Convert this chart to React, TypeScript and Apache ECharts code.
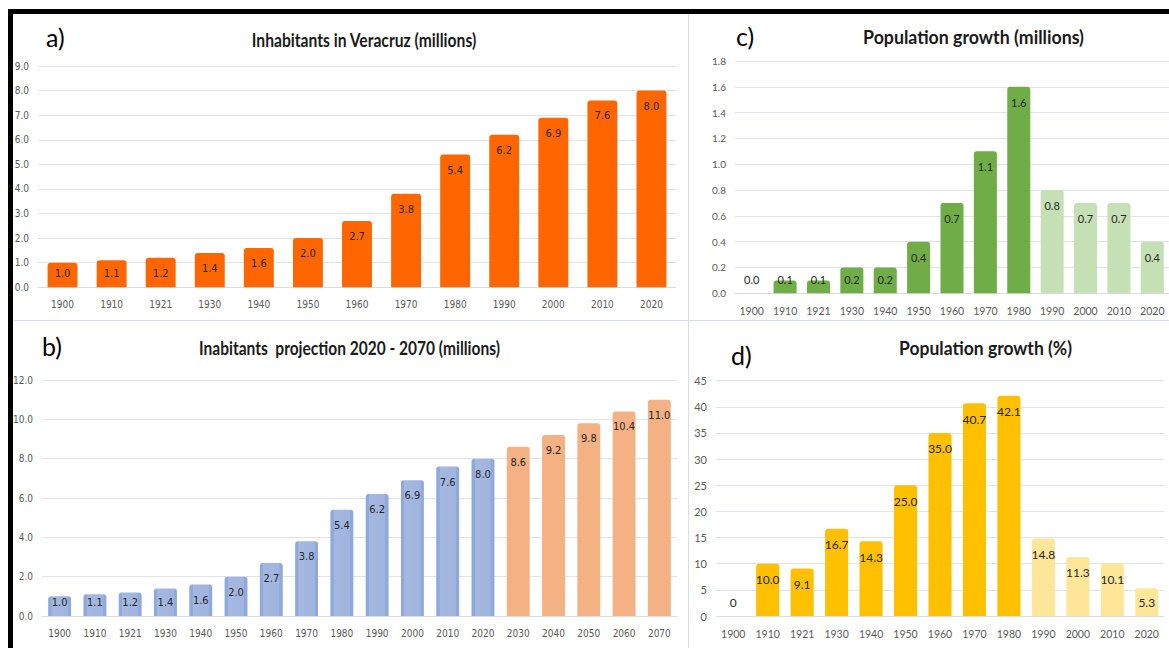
import React, { useEffect, useRef } from "react";
import * as echarts from "echarts";

// ---------- data ----------
const years = ["1900", "1910", "1921", "1930", "1940", "1950", "1960", "1970", "1980", "1990", "2000", "2010", "2020"];
const projectionYears = [...years, "2030", "2040", "2050", "2060", "2070"];
const inhabitants = [1.0, 1.1, 1.2, 1.4, 1.6, 2.0, 2.7, 3.8, 5.4, 6.2, 6.9, 7.6, 8.0];
const projection = [1.0, 1.1, 1.2, 1.4, 1.6, 2.0, 2.7, 3.8, 5.4, 6.2, 6.9, 7.6, 8.0, 8.6, 9.2, 9.8, 10.4, 11.0];
const growthMillions = [0.0, 0.1, 0.1, 0.2, 0.2, 0.4, 0.7, 1.1, 1.6, 0.8, 0.7, 0.7, 0.4];
const growthPercent = [0, 10.0, 9.1, 16.7, 14.3, 25.0, 35.0, 40.7, 42.1, 14.8, 11.3, 10.1, 5.3];
const projectionStart = 13; // first projected category in b)
const growthLightStart = 9; // 1990 onward shown lighter in c) and d)

const titles = {
  a: "Inhabitants in Veracruz (millions)",
  b: "Inabitants  projection 2020 - 2070 (millions)",
  c: "Population growth (millions)",
  d: "Population growth (%)",
};

const NARROW = '"Liberation Sans Narrow", "DejaVu Sans Condensed", Lato, sans-serif';
const CAL = 'Lato, "Open Sans", sans-serif';
const GRIDLINE = "#e0e3ea";

function fitScale(text: string, font: string, target: number) {
  try {
    const ctx = document.createElement("canvas").getContext("2d")!;
    ctx.font = font;
    const w = ctx.measureText(text).width;
    return w > 0 ? target / w : 1;
  } catch (e) {
    return 1;
  }
}

function titleText(text: string, cx: number, cy: number, size: number, width: number) {
  const family = "Lato";
  const scaleX = fitScale(text, `bold ${size}px ${family}`, width);
  return {
    type: "text",
    x: cx,
    y: cy,
    scaleX,
    style: {
      text,
      fontFamily: family,
      fontWeight: "bold",
      fontSize: size,
      fill: "#1a1a1a",
      align: "center",
      verticalAlign: "middle",
    },
  };
}

function letter(text: string, x: number, cy: number) {
  return {
    type: "text",
    x,
    y: cy,
    style: {
      text,
      fontFamily: CAL,
      fontSize: 25,
      fill: "#000",
      align: "left",
      verticalAlign: "middle",
    },
  };
}

function barData(
  values: number[],
  colorOf: (i: number) => any,
  max: number,
  gridH: number,
  fmt: (v: number) => string
) {
  return values.map((v, i) => {
    const px = (v / max) * gridH;
    const small = px < 30;
    return {
      value: v,
      itemStyle: { color: colorOf(i), borderRadius: [3, 3, 0, 0] },
      label: {
        position: small ? "insideBottom" : "insideTop",
        distance: small ? 8 : 10,
        formatter: () => fmt(v),
      },
    };
  });
}

const blueBar = {
  type: "linear",
  x: 0,
  y: 0,
  x2: 1,
  y2: 0,
  colorStops: [
    { offset: 0, color: "#8eaadc" },
    { offset: 0.14, color: "#8eaadc" },
    { offset: 0.15, color: "#a5b8e0" },
    { offset: 0.85, color: "#a1b4de" },
    { offset: 0.86, color: "#8eaadc" },
    { offset: 1, color: "#8eaadc" },
  ],
};

export default function App() {
  const ref = useRef<HTMLDivElement>(null);

  useEffect(() => {
    if (!ref.current) return;
    const chart = echarts.init(ref.current, null, { renderer: "svg" });

    const grids = [
      { left: 38, top: 66, width: 638, height: 221.3 },
      { left: 42, top: 380, width: 635, height: 236 },
      { left: 735, top: 61, width: 439, height: 232.3 },
      { left: 716, top: 380.7, width: 448, height: 235.3 },
    ];
    const yConf = [
      { max: 9, interval: 1, fmt: (v: number) => v.toFixed(1), font: NARROW, size: 10 },
      { max: 12, interval: 2, fmt: (v: number) => v.toFixed(1), font: NARROW, size: 10 },
      { max: 1.8, interval: 0.2, fmt: (v: number) => v.toFixed(1), font: CAL, size: 10 },
      { max: 45, interval: 5, fmt: (v: number) => String(Math.round(v)), font: CAL, size: 11 },
    ];
    const cats = [years, projectionYears, years, years];

    const xAxis = cats.map((c, i) => ({
      type: "category",
      gridIndex: i,
      data: c,
      axisTick: { show: false },
      axisLine: { show: true, lineStyle: { color: "#d9dce3", width: 1 } },
      axisLabel: {
        color: "#595959",
        fontFamily: yConf[i].font,
        fontSize: i < 2 ? 10 : 10.5,
        margin: 12,
        interval: 0,
      },
    }));

    const yAxis = yConf.map((y, i) => ({
      type: "value",
      gridIndex: i,
      min: 0,
      max: y.max,
      interval: y.interval,
      axisLine: { show: false },
      axisTick: { show: false },
      splitLine: { lineStyle: { color: GRIDLINE, width: 1 } },
      axisLabel: {
        color: "#595959",
        fontFamily: y.font,
        fontSize: y.size,
        margin: 9,
        formatter: y.fmt,
      },
    }));

    const labelBase = (font: string, size: number) => ({
      show: true,
      color: "#262626",
      fontFamily: font,
      fontSize: size,
    });

    const series = [
      {
        type: "bar",
        xAxisIndex: 0,
        yAxisIndex: 0,
        barWidth: "61%",
        label: labelBase(NARROW, 11),
        data: barData(inhabitants, () => "#ff6600", 9, 221.3, (v) => v.toFixed(1)),
      },
      {
        type: "bar",
        xAxisIndex: 1,
        yAxisIndex: 1,
        barWidth: "65%",
        label: labelBase(NARROW, 11),
        data: barData(
          projection,
          (i) => (i < projectionStart ? blueBar : "#f4b183"),
          12,
          236,
          (v) => v.toFixed(1)
        ),
      },
      {
        type: "bar",
        xAxisIndex: 2,
        yAxisIndex: 2,
        barWidth: "69%",
        label: labelBase(CAL, 11),
        data: barData(
          growthMillions,
          (i) => (i < growthLightStart ? "#70ad47" : "#c5e0b4"),
          1.8,
          232.3,
          (v) => v.toFixed(1)
        ),
      },
      {
        type: "bar",
        xAxisIndex: 3,
        yAxisIndex: 3,
        barWidth: "67%",
        label: labelBase(CAL, 12),
        data: barData(
          growthPercent,
          (i) => (i < growthLightStart ? "#ffc000" : "#ffe699"),
          45,
          235.3,
          (v) => (v === 0 ? "0" : v.toFixed(1))
        ),
      },
    ];

    const graphic = [
      // frame
      { type: "rect", shape: { x: 8, y: 9, width: 1161, height: 5 }, style: { fill: "#000" }, z: 100 },
      { type: "rect", shape: { x: 8, y: 9, width: 5, height: 639 }, style: { fill: "#000" }, z: 100 },
      { type: "line", shape: { x1: 688.5, y1: 14, x2: 688.5, y2: 648 }, style: { stroke: "#d8dde8", lineWidth: 1 } },
      { type: "line", shape: { x1: 13, y1: 320.5, x2: 1169, y2: 320.5 }, style: { stroke: "#d8dde8", lineWidth: 1 } },
      // letters
      letter("a)", 46, 37),
      letter("b)", 42, 346),
      letter("c)", 736, 36),
      letter("d)", 731, 355),
      // titles
      titleText(titles.a, 364, 40, 18, 225),
      titleText(titles.b, 349.5, 348, 18, 301),
      titleText(titles.c, 973.5, 37, 18, 221),
      titleText(titles.d, 985.5, 348, 18, 173),
    ];

    chart.setOption({
      animation: false,
      backgroundColor: "#ffffff",
      grid: grids,
      xAxis,
      yAxis,
      series,
      graphic,
    });

    return () => chart.dispose();
  }, []);

  return (
    <div
      ref={ref}
      style={{ position: "absolute", left: 0, top: 0, width: 1169, height: 648 }}
    />
  );
}
